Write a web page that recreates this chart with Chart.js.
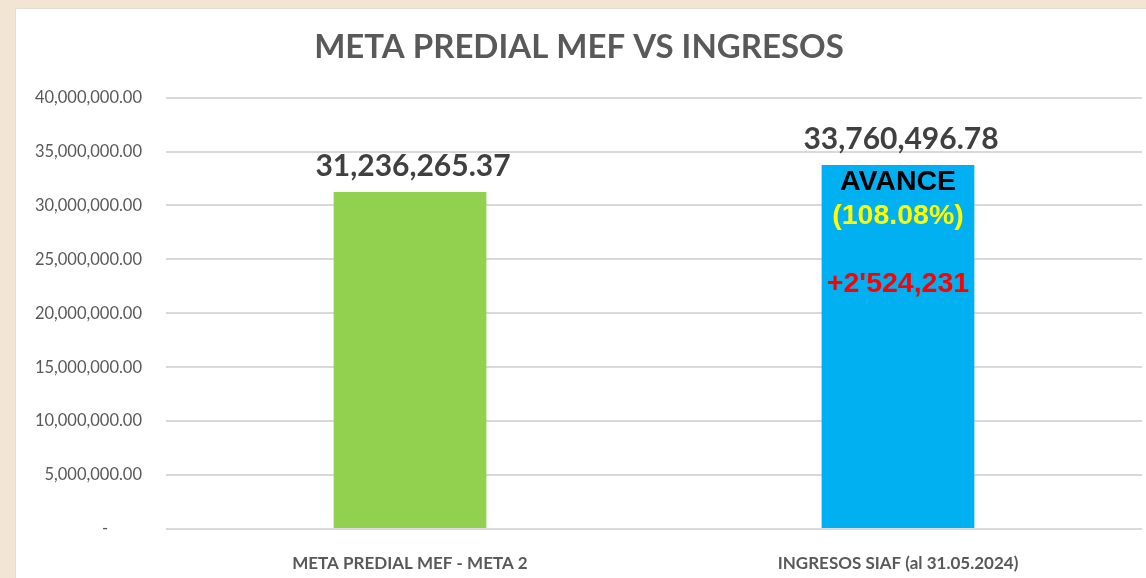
<!DOCTYPE html>
<html>
<head>
<meta charset="utf-8">
<script src="https://cdn.jsdelivr.net/npm/chart.js@4.4.1/dist/chart.umd.min.js"></script>
<style>
  html, body { margin: 0; padding: 0; background: #f3e5d3; overflow: hidden; }
  #box { position: absolute; left: 15px; top: 8px; width: 1131px; height: 570px; background: #fff;
         border-left: 1px solid #e0dcd6; border-top: 1px solid #e0dcd6; box-sizing: border-box; }
  #box canvas { display: block; }
</style>
</head>
<body>
<div id="box"><canvas id="chart"></canvas></div>
<script>
const categories = ['META PREDIAL MEF - META 2', 'INGRESOS SIAF (al 31.05.2024)'];
const values = [31236265.37, 33760496.78];
const barColors = ['#92d050', '#00b0f0'];
const yTicks = [0, 5000000, 10000000, 15000000, 20000000, 25000000, 30000000, 35000000, 40000000];
// text shown inside the second bar
const avanceLines = [
  { text: 'AVANCE', color: '#000000' },
  { text: '(108.08%)', color: '#ffff00' },
  { text: '', color: '#000000' },
  { text: "+2'524,231", color: '#ff0000' }
];

const fmt = v => v.toLocaleString('en-US', { minimumFractionDigits: 2, maximumFractionDigits: 2 });

const labelsPlugin = {
  id: 'barLabels',
  afterDatasetsDraw(chart) {
    const ctx = chart.ctx;
    const meta = chart.getDatasetMeta(0);
    ctx.save();
    ctx.textAlign = 'center';
    ctx.textBaseline = 'alphabetic';
    ctx.font = 'bold 30px Lato';
    ctx.fillStyle = '#404040';
    meta.data.forEach((bar, i) => {
      ctx.fillText(fmt(values[i]), bar.x + 3, bar.y - 16);
    });
    // annotation inside second bar
    const b = meta.data[1];
    ctx.font = 'bold 28.5px "Liberation Sans"';
    ctx.textBaseline = 'middle';
    avanceLines.forEach((l, k) => {
      if (!l.text) return;
      ctx.fillStyle = l.color;
      ctx.fillText(l.text, b.x, b.y + 17 + k * 34);
    });
    ctx.restore();
  }
};

new Chart(document.getElementById('chart'), {
  type: 'bar',
  data: {
    labels: categories,
    datasets: [{
      data: values,
      backgroundColor: barColors,
      categoryPercentage: 1,
      barPercentage: 0.313
    }]
  },
  options: {
    responsive: true,
    maintainAspectRatio: false,
    animation: false,
    layout: { padding: { left: 0, right: 4, top: 0, bottom: 0 } },
    plugins: {
      legend: { display: false },
      tooltip: { enabled: false },
      title: {
        display: true,
        text: 'META PREDIAL MEF VS INGRESOS',
        color: '#595959',
        font: { family: 'Lato', size: 33, weight: 'bold', lineHeight: 1.2 },
        padding: { top: 19, bottom: 30 }
      }
    },
    scales: {
      x: {
        grid: { display: false },
        border: { display: false },
        ticks: { color: '#595959', font: { family: 'Lato', size: 17, weight: 'bold' }, padding: 16 },
        afterFit: s => { s.height = 49; }
      },
      y: {
        min: 0,
        max: 40000000,
        afterBuildTicks: s => { s.ticks = yTicks.map(v => ({ value: v })); },
        grid: { color: '#d9d9d9', lineWidth: 2, drawTicks: false },
        border: { display: false },
        ticks: {
          color: '#595959',
          font: { family: 'Lato', size: 16.5 },
          padding: 24,
          callback: v => v === 0 ? '-        ' : fmt(v)
        },
        afterFit: s => { s.width = 150; }
      }
    }
  },
  plugins: [labelsPlugin]
});
</script>
</body>
</html>
